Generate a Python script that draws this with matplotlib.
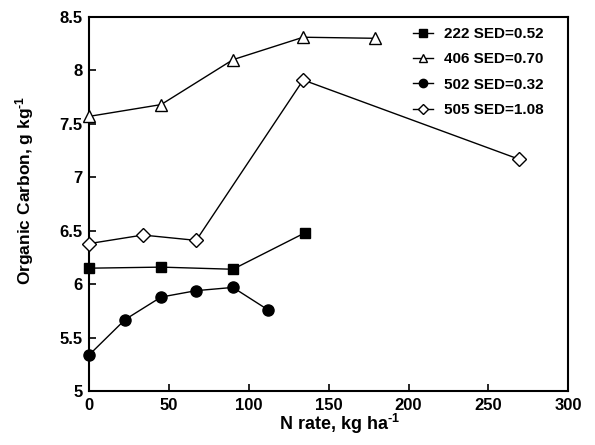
import matplotlib
matplotlib.use('Agg')
import matplotlib.pyplot as plt

plt.rcParams['font.family'] = 'Liberation Sans'
plt.rcParams['font.weight'] = 'bold'
plt.rcParams['mathtext.fontset'] = 'custom'
plt.rcParams['mathtext.rm'] = 'Liberation Sans:bold'
plt.rcParams['mathtext.default'] = 'rm'

# data
n_222 = [0, 45, 90, 135]
oc_222 = [6.15, 6.16, 6.14, 6.48]

n_406 = [0, 45, 90, 134, 179]
oc_406 = [7.57, 7.68, 8.10, 8.31, 8.30]

n_502 = [0, 22.5, 45, 67, 90, 112]
oc_502 = [5.34, 5.67, 5.88, 5.94, 5.97, 5.76]

n_505 = [0, 33.6, 67, 134, 269]
oc_505 = [6.38, 6.46, 6.41, 7.91, 7.17]

labels = ['222 SED=0.52', '406 SED=0.70', '502 SED=0.32', '505 SED=1.08']

fig = plt.figure(figsize=(5.95, 4.45), dpi=100)
ax = fig.add_axes([0.150, 0.121, 0.805, 0.841])

ax.plot(n_222, oc_222, color='black', lw=1, marker='s', ms=7, mfc='black',
        clip_on=False, zorder=3, label=labels[0])
ax.plot(n_406, oc_406, color='black', lw=1, marker='^', ms=8, mfc='white', mew=1,
        clip_on=False, zorder=3, label=labels[1])
ax.plot(n_502, oc_502, color='black', lw=1, marker='o', ms=8, mfc='black',
        clip_on=False, zorder=3, label=labels[2])
ax.plot(n_505, oc_505, color='black', lw=1, marker='D', ms=7, mfc='white', mew=1,
        clip_on=False, zorder=3, label=labels[3])

ax.set_xlim(0, 300)
ax.set_ylim(5, 8.5)
ax.set_xticks([0, 50, 100, 150, 200, 250, 300])
ax.set_yticks([5, 5.5, 6, 6.5, 7, 7.5, 8, 8.5])
ax.set_yticklabels(['5', '5.5', '6', '6.5', '7', '7.5', '8', '8.5'])
ax.tick_params(direction='in', length=5, width=1.2, labelsize=12, pad=5)
for s in ax.spines.values():
    s.set_linewidth(1.5)

ax.set_xlabel('N rate, kg ha$^{\u2010 1}$', fontsize=13, fontweight='bold')
ax.set_ylabel('Organic Carbon, g kg$^{\u2010 1}$', fontsize=12.5, fontweight='bold')
ax.xaxis.set_label_coords(0.522, -0.056)
ax.yaxis.set_label_coords(-0.112, 0.537)

leg = ax.legend(loc='upper right', bbox_to_anchor=(0.977, 1.01), frameon=False,
                fontsize=11, handlelength=1.3, handletextpad=0.7, labelspacing=0.75,
                markerscale=0.75)

fig.savefig('out.png', dpi=100)
